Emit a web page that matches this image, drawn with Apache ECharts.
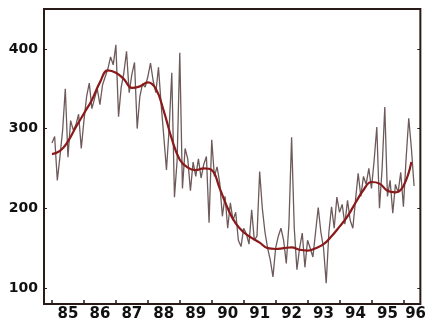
<!DOCTYPE html>
<html>
<head>
<meta charset="utf-8">
<script src="https://cdn.jsdelivr.net/npm/echarts@6/dist/echarts.min.js"></script>
<style>
  html, body { margin: 0; padding: 0; background: #ffffff; }
  #chart { width: 429px; height: 323px; }
</style>
</head>
<body>
<div id="chart"></div>
<script>
// Monthly readings, starting January 1985
const startYear = 1985;
const monthly = [
  282, 290, 235, 265, 298, 350, 264, 310, 298, 305, 318, 275,   // 1985
  310, 340, 357, 325, 338, 350, 330, 355, 365, 375, 390, 380,   // 1986
  405, 315, 352, 370, 397, 345, 368, 383, 300, 340, 356, 352,   // 1987
  365, 382, 360, 345, 377, 330, 290, 248, 300, 370, 214, 260,   // 1988
  395, 225, 275, 262, 222, 258, 240, 262, 238, 255, 265, 182,   // 1989
  286, 240, 252, 232, 190, 215, 175, 207, 185, 195, 160, 152,   // 1990
  175, 168, 155, 198, 160, 165, 246, 200, 170, 150, 135, 114,   // 1991
  150, 165, 175, 160, 131, 180, 289, 175, 123, 150, 169, 126,   // 1992
  160, 150, 139, 170, 201, 170, 150, 106, 170, 202, 175, 214,   // 1993
  195, 205, 180, 210, 185, 175, 210, 244, 215, 240, 230, 250,   // 1994
  225, 260, 302, 200, 250, 327, 215, 235, 194, 230, 220, 245,   // 1995
  202, 262, 313, 275, 228                                       // 1996
];

// Smoothed trend, one value per quarter starting 1985.0
const trend = [
  268, 272, 284, 302, 319, 336, 358, 373,   // 1985-86
  370, 362, 351, 353, 358, 350, 322, 287,   // 1987-88
  261, 251, 248, 250, 248, 225, 200, 181,   // 1989-90
  170, 163, 157, 150, 149, 150, 151, 148,   // 1991-92
  147, 150, 155, 165, 177, 190, 207, 223,   // 1993-94
  233, 231, 222, 220, 228, 258              // 1995-96
];

// Axis marks
const yearTicks = [1985, 1986, 1987, 1988, 1989, 1990, 1991, 1992, 1993, 1994, 1995, 1996];
const yearLabelPos = [1985.5, 1986.5, 1987.5, 1988.5, 1989.5, 1990.5, 1991.5, 1992.5, 1993.5, 1994.5, 1995.5, 1996.38];
const yTicks = [100, 200, 300, 400];

const monthlyPts = monthly.map((v, i) => [startYear + i / 12, v]);
const trendPts = trend.map((v, i) => [startYear + i / 4, v]);

const labelFont = { fontFamily: 'DejaVu Sans, Arial, sans-serif', fontWeight: 'bold', color: '#111' };

const chart = echarts.init(document.getElementById('chart'), null, { renderer: 'canvas' });
chart.setOption({
  animation: false,
  backgroundColor: '#ffffff',
  grid: {
    left: 44, right: 8, top: 9, bottom: 19,
    show: true, borderColor: '#2a1a18', borderWidth: 2, backgroundColor: 'transparent'
  },
  xAxis: {
    type: 'value',
    min: 1984.75, max: 1996.53,
    axisLine: { show: false },
    splitLine: { show: false },
    axisTick: { show: true, inside: true, length: 4, customValues: yearTicks, lineStyle: { color: '#2a1a18', width: 1.5 } },
    axisLabel: {
      customValues: yearLabelPos,
      formatter: v => String(Math.floor(v) % 100).padStart(2, '0'),
      fontSize: 15, margin: 3, ...labelFont
    }
  },
  yAxis: [
    {
      type: 'value', position: 'left',
      min: 80, max: 450,
      axisLine: { show: false },
      splitLine: { show: false },
      axisTick: { show: true, inside: true, length: 3, customValues: yTicks, lineStyle: { color: '#2a1a18', width: 1 } },
      axisLabel: { customValues: yTicks, fontSize: 14, margin: 6, ...labelFont }
    },
    {
      type: 'value', position: 'right',
      min: 80, max: 450,
      axisLine: { show: false },
      splitLine: { show: false },
      axisTick: { show: true, inside: true, length: 3, customValues: yTicks, lineStyle: { color: '#2a1a18', width: 1 } },
      axisLabel: { show: false }
    }
  ],
  series: [
    {
      type: 'line', data: monthlyPts, showSymbol: false,
      lineStyle: { color: '#6e5a5a', width: 1.3 }, z: 2
    },
    {
      type: 'line', data: trendPts, showSymbol: false, smooth: 0.45,
      lineStyle: { color: '#8a1a1a', width: 2.2 }, z: 3
    }
  ]
});
</script>
</body>
</html>
